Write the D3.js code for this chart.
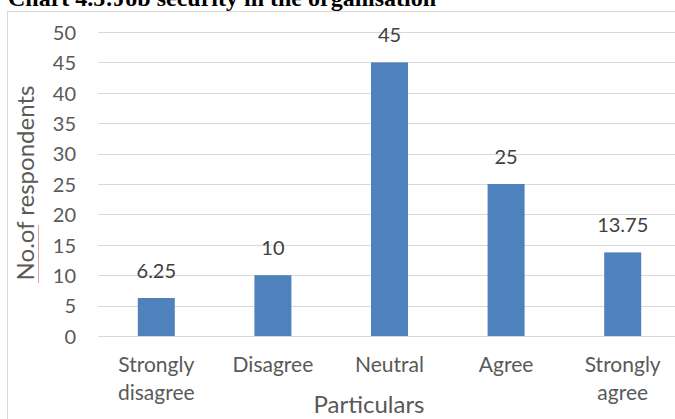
<!DOCTYPE html>
<html>
<head>
<meta charset="utf-8">
<script src="https://cdn.jsdelivr.net/npm/d3@7"></script>
<style>
  html, body { margin: 0; padding: 0; background: #fff; }
  svg { display: block; }
</style>
</head>
<body>
<svg id="chart" width="675" height="419"></svg>
<script>
// Job security responses
const categories = [["Strongly", "disagree"], ["Disagree"], ["Neutral"], ["Agree"], ["Strongly", "agree"]];
const values = [6.25, 10, 45, 25, 13.75];
const valueLabels = ["6.25", "10", "45", "25", "13.75"];
const yTicks = [0, 5, 10, 15, 20, 25, 30, 35, 40, 45, 50];

const svg = d3.select("#chart");
const font = "Lato, 'Open Sans', sans-serif";
const plot = { left: 98, right: 681, top: 32, bottom: 336 };

// chart frame (only top and left edges fall inside the view)
svg.append("rect")
  .attr("x", 7.5).attr("y", 11.5)
  .attr("width", 700).attr("height", 440)
  .attr("fill", "none").attr("stroke", "#d9d9d9").attr("stroke-width", 1);

// title, partly clipped at the top edge
svg.append("text")
  .attr("x", 8).attr("y", 6)
  .attr("font-family", "'Liberation Serif', 'Times New Roman', serif")
  .attr("font-weight", "bold").attr("font-size", 24)
  .attr("fill", "#000")
  .text("Chart 4.5:Job security in the organisation");

const x = d3.scaleBand()
  .domain(d3.range(categories.length))
  .range([plot.left, plot.right])
  .paddingInner(0.68).paddingOuter(0.34);

const y = d3.scaleLinear().domain([0, 50]).range([plot.bottom, plot.top]);

// gridlines
svg.append("g")
  .selectAll("line")
  .data(yTicks)
  .join("line")
  .attr("x1", plot.left).attr("x2", plot.right)
  .attr("y1", d => Math.round(y(d)) + 0.5).attr("y2", d => Math.round(y(d)) + 0.5)
  .attr("stroke", "#d9d9d9").attr("stroke-width", 1);

// y axis labels
const yAxis = svg.append("g")
  .attr("transform", `translate(${plot.left - 22},0)`)
  .call(d3.axisLeft(y).tickValues(yTicks).tickSize(0).tickPadding(0));
yAxis.select(".domain").remove();
yAxis.selectAll("text")
  .attr("font-family", font).attr("font-size", 20).attr("fill", "#595959")
  .attr("dy", "0.36em");

// bars
const bw = 37;
svg.append("g")
  .selectAll("rect")
  .data(values)
  .join("rect")
  .attr("x", (d, i) => x(i) + x.bandwidth() / 2 - bw / 2)
  .attr("y", d => y(d))
  .attr("width", bw)
  .attr("height", d => y(0) - y(d))
  .attr("fill", "#4f81bd");

// value labels
svg.append("g")
  .selectAll("text")
  .data(values)
  .join("text")
  .attr("x", (d, i) => x(i) + x.bandwidth() / 2)
  .attr("y", d => y(d) - 20)
  .attr("text-anchor", "middle")
  .attr("font-family", font).attr("font-size", 20).attr("fill", "#404040")
  .text((d, i) => valueLabels[i]);

// category labels
const xl = svg.append("g")
  .selectAll("text")
  .data(categories)
  .join("text")
  .attr("x", (d, i) => x(i) + x.bandwidth() / 2)
  .attr("y", 372)
  .attr("text-anchor", "middle")
  .attr("font-family", font).attr("font-size", 21).attr("fill", "#595959");
xl.selectAll("tspan")
  .data(d => d)
  .join("tspan")
  .attr("x", function () { return d3.select(this.parentNode).attr("x"); })
  .attr("dy", (d, i) => i === 0 ? 0 : 28)
  .text(d => d);

// axis titles
svg.append("text")
  .attr("x", 369).attr("y", 413)
  .attr("text-anchor", "middle")
  .attr("font-family", font).attr("font-size", 24).attr("fill", "#595959")
  .text("Particulars");

svg.append("text")
  .attr("transform", "translate(34,183) rotate(-90)")
  .attr("text-anchor", "middle")
  .attr("font-family", font).attr("font-size", 24).attr("fill", "#595959")
  .text("No.of respondents");

// spell-check underline beneath "No.of"
svg.append("line")
  .attr("x1", 38.5).attr("x2", 38.5)
  .attr("y1", 283).attr("y2", 225)
  .attr("stroke", "#e8a0a0").attr("stroke-width", 1);
</script>
</body>
</html>
